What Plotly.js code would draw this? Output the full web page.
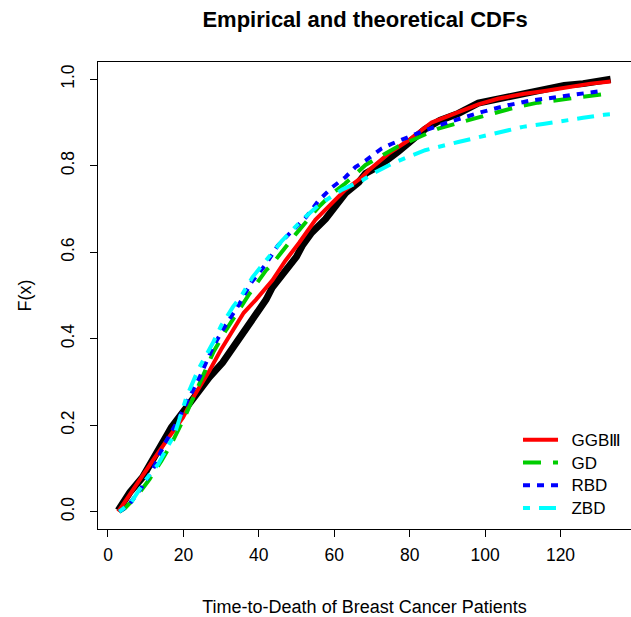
<!DOCTYPE html>
<html>
<head>
<meta charset="utf-8">
<script src="https://cdn.plot.ly/plotly-3.0.1.min.js"></script>
<style>html,body{margin:0;padding:0;background:#fff;overflow:hidden;} #chart{width:631px;height:617px;}</style>
</head>
<body>
<div id="chart"></div>
<script>
// Empirical CDF (black)
const empX = [2.7, 5.8, 9.2, 11, 13.3, 15.5, 16.8, 19, 21.6, 24, 26.9, 30.4, 32.2, 34, 36.6, 39, 41.9, 43.6, 46, 47.2, 50, 51.5, 54, 57.7, 59.4, 62, 63, 66.5, 68.3, 72, 75.3, 77, 80, 84.1, 88, 92.9, 98.2, 103.4, 108, 112.2, 115.8, 121, 126, 130, 133.3];
const empY = [0.003, 0.045, 0.08, 0.105, 0.141, 0.175, 0.195, 0.22, 0.25, 0.28, 0.311, 0.345, 0.368, 0.39, 0.419, 0.45, 0.49, 0.519, 0.545, 0.558, 0.59, 0.615, 0.645, 0.677, 0.697, 0.725, 0.737, 0.762, 0.782, 0.8, 0.82, 0.833, 0.855, 0.885, 0.905, 0.921, 0.945, 0.955, 0.963, 0.971, 0.978, 0.986, 0.99, 0.995, 1.0];

// GGBIII (red)
const ggbX = [2.7, 5, 8, 12, 16, 19.9, 23, 26.9, 30, 33.1, 36, 39.2, 41.9, 43.6, 47, 50.7, 55, 59.4, 63, 67.4, 69.1, 74.4, 79.7, 85.8, 89.4, 98.2, 103.4, 110, 115.8, 122, 128, 133.3];
const ggbY = [0.0, 0.03, 0.07, 0.12, 0.17, 0.218, 0.27, 0.326, 0.375, 0.419, 0.46, 0.49, 0.519, 0.535, 0.58, 0.622, 0.675, 0.712, 0.745, 0.774, 0.789, 0.828, 0.859, 0.9, 0.912, 0.942, 0.955, 0.966, 0.973, 0.982, 0.99, 0.995];

// GD (green)
const gdX = [3, 4.5, 8, 11, 14.2, 16.8, 20.3, 24.3, 28, 31.3, 37.5, 41.9, 43.6, 49.8, 55.9, 59.4, 62.9, 68.3, 77, 81.4, 87.6, 94.6, 99.9, 103.4, 108, 114, 120, 125, 131];
const gdY = [0.0, 0.008, 0.04, 0.075, 0.118, 0.157, 0.218, 0.296, 0.37, 0.42, 0.504, 0.558, 0.573, 0.642, 0.705, 0.735, 0.759, 0.802, 0.845, 0.862, 0.886, 0.903, 0.915, 0.924, 0.935, 0.946, 0.953, 0.958, 0.965];

// RBD (blue)
const rbdX = [3, 5.5, 8.9, 12, 15, 18.5, 21, 24.3, 27.8, 30.4, 34.8, 38, 41.9, 45, 48.9, 52.4, 55.9, 59.4, 63, 65.6, 68.3, 72.6, 75.3, 80, 84.1, 90, 96.4, 99, 106, 112.2, 115.8, 122, 130];
const rbdY = [0.0, 0.015, 0.056, 0.1, 0.157, 0.21, 0.255, 0.311, 0.38, 0.42, 0.48, 0.53, 0.573, 0.615, 0.65, 0.68, 0.72, 0.75, 0.774, 0.797, 0.812, 0.84, 0.851, 0.868, 0.882, 0.9, 0.917, 0.924, 0.94, 0.951, 0.955, 0.963, 0.972];

// ZBD (cyan)
const zbdX = [3, 6, 10.2, 13.3, 17.7, 20.8, 24, 27.8, 30, 33.1, 35.7, 38.3, 41.9, 46, 51.5, 56, 62.1, 67.4, 70.9, 75.3, 80, 84.1, 92.9, 99.9, 103.4, 110, 115.8, 121, 126, 131.6, 133.3];
const zbdY = [0.0, 0.02, 0.076, 0.11, 0.18, 0.265, 0.33, 0.39, 0.43, 0.473, 0.504, 0.542, 0.581, 0.625, 0.675, 0.71, 0.745, 0.766, 0.785, 0.805, 0.822, 0.836, 0.855, 0.87, 0.878, 0.89, 0.897, 0.905, 0.911, 0.918, 0.919];

const xTicks = [0, 20, 40, 60, 80, 100, 120];
const yTicks = [0.0, 0.2, 0.4, 0.6, 0.8, 1.0];
const yTickText = ["0.0", "0.2", "0.4", "0.6", "0.8", "1.0"];
const seriesNames = ['GGBⅢ', 'GD', 'RBD', 'ZBD'];

const lbl = s => '\u00a0\u00a0<span style="font-size:17px">' + s + '</span>';
const traces = [
  {x: empX, y: empY, mode: 'lines', line: {color: '#000000', width: 7}, showlegend: false, hoverinfo: 'skip'},
  {x: ggbX, y: ggbY, mode: 'lines', name: lbl(seriesNames[0]), line: {color: '#ff0000', width: 4}},
  {x: gdX, y: gdY, mode: 'lines', name: lbl(seriesNames[1]), line: {color: '#00cd00', width: 4, dash: '18px,12px'}},
  {x: rbdX, y: rbdY, mode: 'lines', name: lbl(seriesNames[2]), line: {color: '#0000ff', width: 4, dash: '7px,7px'}},
  {x: zbdX, y: zbdY, mode: 'lines', name: lbl(seriesNames[3]), line: {color: '#00ffff', width: 4, dash: '7px,9px,17px,9px'}}
];

const font = "Liberation Sans, Arial, sans-serif";
const layout = {
  width: 631, height: 617,
  margin: {l: 98, r: 0, t: 62, b: 88, autoexpand: false},
  paper_bgcolor: '#ffffff', plot_bgcolor: '#ffffff',
  font: {family: font, color: '#000000', size: 17},
  title: {text: '<b>Empirical and theoretical CDFs</b>', font: {family: font, size: 22, color: '#000'}, x: 0.5785, xanchor: 'center', y: 0.969, yanchor: 'middle'},
  xaxis: {
    range: [-2.65, 138.7], tickvals: xTicks, ticks: 'outside', ticklen: 7, tickwidth: 1, tickcolor: '#000',
    showline: true, linecolor: '#000', linewidth: 1, mirror: true, showgrid: false, zeroline: false,
    tickfont: {size: 17.5}, ticklabelstandoff: 3,
    title: {text: 'Time-to-Death of Breast Cancer Patients', font: {size: 18}, standoff: 37}
  },
  yaxis: {
    range: [-0.04, 1.04], tickvals: yTicks, ticktext: yTickText, ticks: 'outside', ticklen: 7, tickwidth: 1, tickcolor: '#000',
    showline: true, linecolor: '#000', linewidth: 1, mirror: false, showgrid: false, zeroline: false,
    tickangle: -90, tickfont: {size: 17.5}, ticklabelstandoff: 9,
    title: {text: 'F(x)', font: {size: 18}, standoff: 21}
  },
  legend: {x: 0.788, xanchor: 'left', y: 0.0076, yanchor: 'bottom', bgcolor: 'rgba(0,0,0,0)', borderwidth: 0, font: {size: 15.2}, itemwidth: 35, tracegroupgap: 0}
};

Plotly.newPlot('chart', traces, layout, {staticPlot: true, displayModeBar: false});
</script>
</body>
</html>
